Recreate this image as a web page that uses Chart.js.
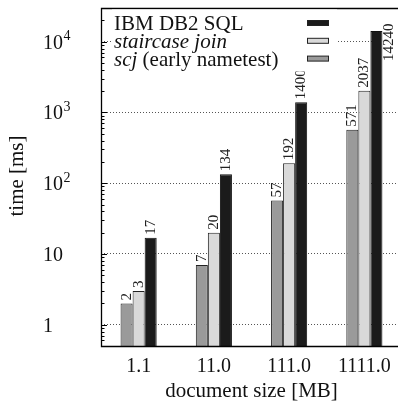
<!DOCTYPE html>
<html><head><meta charset="utf-8">
<script src="https://cdn.jsdelivr.net/npm/chart.js@4/dist/chart.umd.min.js"></script>
<style>html,body{margin:0;padding:0;overflow:hidden;background:#fff}</style>
</head><body>
<canvas id="c" width="402" height="402"></canvas>
<script>
const categories = ['1.1', '11.0', '111.0', '1111.0'];
const scjValues = [2, 7, 57, 571];
const staircaseValues = [3, 20, 192, 2037];
const db2Values = [17, 134, 1400, 14240];
const yTickValues = [1, 10, 100, 1000, 10000];
const yTickBases = ['1', '10', '10', '10', '10'];
const yTickExponents = ['', '', '2', '3', '4'];
const xTitle = 'document size [MB]';
const yTitle = 'time [ms]';

const SERIF = '"Liberation Serif", "DejaVu Serif", serif';

const framePlugin = {
  id: 'frame',
  beforeDatasetsDraw(chart) {
    const {ctx, chartArea: a} = chart;
    const y = chart.scales.y;
    ctx.save();
    ctx.strokeStyle = '#000';
    ctx.lineWidth = 1;
    for (let k = -1; k <= 5; k++) {
      for (let m = 1; m <= 9; m++) {
        const v = m * Math.pow(10, k);
        if (v < y.min || v > y.max) continue;
        const py = Math.round(y.getPixelForValue(v)) + 0.5;
        const len = m === 1 ? 6 : 3.5;
        ctx.beginPath();
        ctx.moveTo(a.left, py);
        ctx.lineTo(a.left + len, py);
        ctx.stroke();
      }
    }
    ctx.restore();
  },
  afterDraw(chart) {
    const {ctx, chartArea: a} = chart;
    const ys = chart.scales.y;
    ctx.save();
    ctx.strokeStyle = '#000';
    ctx.lineWidth = 1.3;
    ctx.beginPath();
    ctx.moveTo(a.right + 2, a.top + 0.5);
    ctx.lineTo(a.left + 0.5, a.top + 0.5);
    ctx.lineTo(a.left + 0.5, a.bottom + 0.5);
    ctx.lineTo(a.right + 2, a.bottom + 0.5);
    ctx.stroke();
    // y tick labels with superscript exponents
    ctx.fillStyle = '#111';
    ctx.textAlign = 'left';
    ctx.textBaseline = 'alphabetic';
    yTickValues.forEach((v, i) => {
      const py = ys.getPixelForValue(v);
      const base = py + 7;
      ctx.font = '20px ' + SERIF;
      ctx.fillText(yTickBases[i], 43, base);
      const w = ctx.measureText(yTickBases[i]).width;
      if (yTickExponents[i]) {
        ctx.font = '14px ' + SERIF;
        ctx.fillText(yTickExponents[i], 43 + w + 0.5, base - 8.5);
      }
    });
    // y title
    ctx.font = '21px ' + SERIF;
    ctx.textAlign = 'center';
    ctx.textBaseline = 'middle';
    ctx.translate(17, 176);
    ctx.rotate(-Math.PI / 2);
    ctx.fillText(yTitle, 0, 0);
    ctx.restore();
  }
};

const valueLabelPlugin = {
  id: 'valueLabels',
  afterDatasetsDraw(chart) {
    const {ctx, chartArea: a} = chart;
    ctx.save();
    ctx.font = '15px ' + SERIF;
    ctx.fillStyle = '#222';
    chart.data.datasets.forEach((ds, i) => {
      const meta = chart.getDatasetMeta(i);
      meta.data.forEach((bar, j) => {
        const txt = String(ds.data[j]);
        const w = ctx.measureText(txt).width;
        let x = bar.x, y = bar.y - 3;
        if (y - w < a.top + 2) {
          x = bar.x + bar.width / 2 + 7;
          y = bar.y + 30;
          ctx.save();
          ctx.fillStyle = '#fff';
          ctx.fillRect(bar.x + bar.width / 2 + 1, y - w - 2, 16, w + 4);
          ctx.restore();
        }
        ctx.save();
        ctx.translate(x, y);
        ctx.rotate(-Math.PI / 2);
        ctx.textAlign = 'left';
        ctx.textBaseline = 'middle';
        ctx.fillText(txt, 0, 0);
        ctx.restore();
      });
    });
    ctx.restore();
  }
};

const legendPlugin = {
  id: 'customLegend',
  afterDraw(chart) {
    const {ctx, chartArea: a} = chart;
    ctx.save();
    ctx.fillStyle = '#fff';
    ctx.fillRect(112, a.top + 1.5, 225, 62);
    const order = [2, 1, 0];
    const italicPrefix = ['scj', 'staircase join', ''];
    order.forEach((di, row) => {
      const ds = chart.data.datasets[di];
      const base = 30 + row * 17.8;
      let x = 114;
      const label = ds.label;
      const it = italicPrefix[di];
      ctx.fillStyle = '#111';
      ctx.textAlign = 'left';
      ctx.textBaseline = 'alphabetic';
      if (it) {
        ctx.font = 'italic 21px ' + SERIF;
        ctx.fillText(it, x, base);
        x += ctx.measureText(it).width;
      }
      const rest = label.slice(it.length);
      if (rest) {
        ctx.font = '21px ' + SERIF;
        ctx.fillText(rest, x, base);
      }
      ctx.fillStyle = ds.backgroundColor;
      ctx.strokeStyle = '#222';
      ctx.lineWidth = 1;
      ctx.fillRect(307.5, base - 9.5, 21, 5);
      ctx.strokeRect(307.5, base - 9.5, 21, 5);
    });
    ctx.restore();
  }
};

new Chart(document.getElementById('c'), {
  type: 'bar',
  data: {
    labels: categories,
    datasets: [
      {label: 'scj (early nametest)', data: scjValues, backgroundColor: '#9a9a9a', borderColor: '#222', borderWidth: 1},
      {label: 'staircase join', data: staircaseValues, backgroundColor: '#d9d9d9', borderColor: '#222', borderWidth: 1},
      {label: 'IBM DB2 SQL', data: db2Values, backgroundColor: '#1b1b1b', borderColor: '#111', borderWidth: 1}
    ]
  },
  options: {
    responsive: false,
    animation: false,
    devicePixelRatio: 1,
    layout: {padding: {left: 43, top: 8, right: 0, bottom: 0}},
    datasets: {bar: {categoryPercentage: 0.48, barPercentage: 1}},
    plugins: {legend: {display: false}, tooltip: {enabled: false}},
    scales: {
      x: {
        grid: {display: false, drawTicks: false},
        border: {display: false},
        ticks: {font: {family: SERIF, size: 20}, color: '#111', padding: 9, maxRotation: 0},
        title: {display: true, text: xTitle, font: {family: SERIF, size: 21, lineHeight: 1.0}, color: '#111', padding: {top: 4, bottom: 0}},
        afterFit(s) { s.height = 56; s.paddingLeft = 0; s.paddingRight = 0; }
      },
      y: {
        type: 'logarithmic',
        min: 0.5,
        max: 30000,
        afterBuildTicks(s) { s.ticks = yTickValues.map(v => ({value: v, major: true})); },
        afterFit(s) { s.width = 58; s.paddingTop = 0; s.paddingBottom = 0; },
        grid: {color: '#555', lineWidth: 1, drawTicks: false},
        border: {display: false, dash: [1, 2]},
        ticks: {display: false}
      }
    }
  },
  plugins: [framePlugin, valueLabelPlugin, legendPlugin]
});
</script>
</body></html>
